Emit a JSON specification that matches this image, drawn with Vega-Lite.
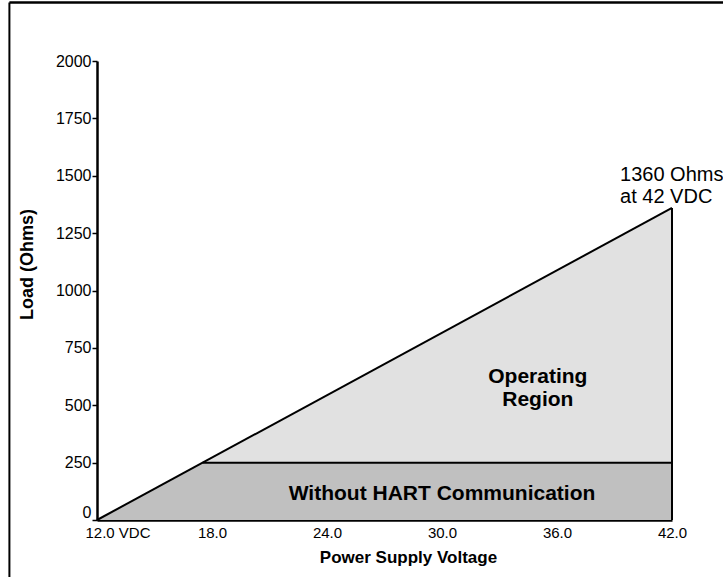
{
  "$schema": "https://vega.github.io/schema/vega-lite/v6.json",
  "width": 575,
  "height": 459,
  "autosize": {"type": "none"},
  "padding": {"left": 97, "top": 61, "right": 51, "bottom": 57},
  "background": "white",
  "config": {
    "view": {"stroke": null},
    "font": "Liberation Sans",
    "text": {"font": "Liberation Sans", "color": "black"}
  },
  "datasets": {
    "regions": [
      {"region": "without", "volts": 12, "load": 0, "base": 0},
      {"region": "without", "volts": 17.51, "load": 250, "base": 0},
      {"region": "without", "volts": 42, "load": 250, "base": 0},
      {"region": "operating", "volts": 17.51, "load": 250, "base": 250},
      {"region": "operating", "volts": 42, "load": 1360, "base": 250}
    ],
    "limit": [
      {"volts": 12, "load": 0},
      {"volts": 42, "load": 1360}
    ],
    "hart": [
      {"volts": 17.51, "volts_end": 42, "load": 250}
    ],
    "notes": [
      {"kind": "region", "text": "Operating", "volts": 35.0, "load": 623},
      {"kind": "region", "text": "Region", "volts": 35.0, "load": 523},
      {"kind": "region", "text": "Without HART Communication", "volts": 30.0, "load": 113},
      {"kind": "limit", "text": "1360 Ohms", "volts": 39.29, "load": 1503},
      {"kind": "limit", "text": "at 42 VDC", "volts": 39.29, "load": 1407}
    ]
  },
  "layer": [
    {
      "data": {"name": "regions"},
      "transform": [{"filter": "datum.region === 'without'"}],
      "mark": {"type": "area", "color": "#c0c0c0", "opacity": 1},
      "encoding": {
        "x": {
          "field": "volts", "type": "quantitative",
          "scale": {"domain": [12, 42], "nice": false, "zero": false},
          "axis": {
            "values": [12, 18, 24, 30, 36, 42],
            "labelExpr": "datum.value === 12 ? '12.0 VDC' : format(datum.value, '.1f')",
            "ticks": false,
            "grid": false,
            "labelFlush": false,
            "labelOverlap": false,
            "labelBound": false,
            "labelFont": "Liberation Sans",
            "labelFontSize": 15,
            "labelColor": "black",
            "labelPadding": 5,
            "labelAlign": {"condition": {"test": "datum.value === 12", "value": "left"}, "value": "center"},
            "labelOffset": {"condition": {"test": "datum.value === 12", "value": -12}, "value": 0},
            "domainColor": "black",
            "domainWidth": 2.5,
            "title": "Power Supply Voltage",
            "titleFont": "Liberation Sans",
            "titleFontSize": 17,
            "titleFontWeight": "bold",
            "titleColor": "black",
            "titleX": 311,
            "titleY": 37,
            "titleAlign": "center",
            "titleBaseline": "middle"
          }
        },
        "y": {
          "field": "load", "type": "quantitative",
          "scale": {"domain": [0, 2000], "nice": false, "zero": false},
          "axis": {
            "values": [0, 250, 500, 750, 1000, 1250, 1500, 1750, 2000],
            "format": "d",
            "grid": false,
            "labelFlush": false,
            "labelOverlap": false,
            "labelFont": "Liberation Sans",
            "labelFontSize": 16,
            "labelColor": "black",
            "labelPadding": 1,
            "labelBaseline": {"condition": {"test": "datum.value === 0", "value": "bottom"}, "value": "middle"},
            "tickSize": 5,
            "tickWidth": 1.5,
            "tickColor": "black",
            "domainColor": "black",
            "domainWidth": 2.5,
            "title": "Load (Ohms)",
            "titleFont": "Liberation Sans",
            "titleFontSize": 18,
            "titleFontWeight": "bold",
            "titleColor": "black",
            "titleAngle": -90,
            "titleX": -70,
            "titleY": 203,
            "titleAlign": "center",
            "titleBaseline": "middle"
          }
        },
        "y2": {"field": "base"}
      }
    },
    {
      "data": {"name": "regions"},
      "transform": [{"filter": "datum.region === 'operating'"}],
      "mark": {"type": "area", "color": "#e1e1e1", "opacity": 1},
      "encoding": {
        "x": {"field": "volts", "type": "quantitative"},
        "y": {"field": "load", "type": "quantitative"},
        "y2": {"field": "base"}
      }
    },
    {
      "data": {"name": "limit"},
      "mark": {"type": "line", "color": "black", "strokeWidth": 2},
      "encoding": {
        "x": {"field": "volts", "type": "quantitative"},
        "y": {"field": "load", "type": "quantitative"}
      }
    },
    {
      "data": {"name": "limit"},
      "transform": [{"filter": "datum.volts === 42"}],
      "mark": {"type": "rule", "color": "black", "strokeWidth": 2},
      "encoding": {
        "x": {"field": "volts", "type": "quantitative"},
        "y": {"field": "load", "type": "quantitative"},
        "y2": {"datum": 0}
      }
    },
    {
      "data": {"name": "hart"},
      "mark": {"type": "rule", "color": "black", "strokeWidth": 2},
      "encoding": {
        "x": {"field": "volts", "type": "quantitative"},
        "x2": {"field": "volts_end"},
        "y": {"field": "load", "type": "quantitative"}
      }
    },
    {
      "data": {"name": "notes"},
      "transform": [{"filter": "datum.kind === 'region'"}],
      "mark": {"type": "text", "fontWeight": "bold", "fontSize": 21, "align": "center", "baseline": "middle", "color": "black"},
      "encoding": {
        "x": {"field": "volts", "type": "quantitative"},
        "y": {"field": "load", "type": "quantitative"},
        "text": {"field": "text"}
      }
    },
    {
      "data": {"name": "notes"},
      "transform": [{"filter": "datum.kind === 'limit'"}],
      "mark": {"type": "text", "fontWeight": "normal", "fontSize": 20, "align": "left", "baseline": "middle", "color": "black"},
      "encoding": {
        "x": {"field": "volts", "type": "quantitative"},
        "y": {"field": "load", "type": "quantitative"},
        "text": {"field": "text"}
      }
    },
    {
      "data": {"values": [{}]},
      "mark": {"type": "rule", "color": "black", "strokeWidth": 2.5},
      "encoding": {
        "x": {"datum": 7.43, "type": "quantitative"},
        "x2": {"datum": 60},
        "y": {"datum": 2255, "type": "quantitative"}
      }
    },
    {
      "data": {"values": [{}]},
      "mark": {"type": "rule", "color": "black", "strokeWidth": 2},
      "encoding": {
        "x": {"datum": 7.43, "type": "quantitative"},
        "y": {"datum": 2255, "type": "quantitative"},
        "y2": {"datum": -400}
      }
    }
  ]
}
